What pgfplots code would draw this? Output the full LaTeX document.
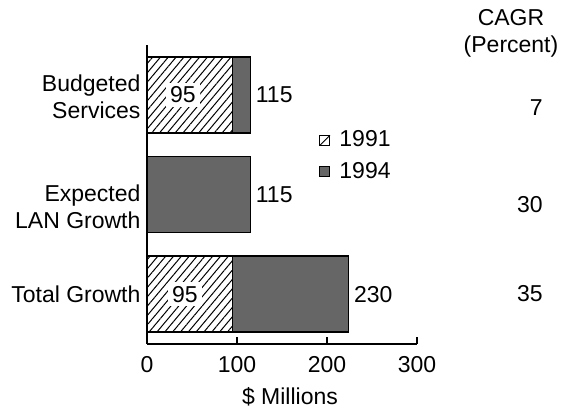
\documentclass[border=0pt]{standalone}
\usepackage{fontspec}
\setmainfont{Liberation Sans}
\usepackage{pgfplots}
\pgfplotsset{compat=1.18}
\usetikzlibrary{patterns.meta}
\definecolor{darkbar}{gray}{0.40}
\begin{document}
\fontsize{11.5}{13.5}\selectfont
\begin{tikzpicture}
\path[use as bounding box] (0pt,0pt) rectangle (281pt,203.5pt);
\begin{axis}[
  at={(73.5pt,31.5pt)}, anchor=south west,
  scale only axis, width=135pt, height=149.5pt,
  xmin=0, xmax=300, ymin=-0.5, ymax=2.5,
  axis x line=bottom, axis y line=left,
  axis line style={-, line width=0.75pt},
  xbar stacked, bar width=38pt,
  xtick={0,100,200,300}, xtick align=inside,
  major tick length=3.5pt,
  x tick style={line width=0.75pt, black},
  xticklabel style={yshift=-2pt},
  ytick={0,0.875,1.98},
  yticklabels={{Total Growth},{Expected\\LAN Growth},{Budgeted\\Services}},
  yticklabel style={align=right, xshift=2.5pt},
  y tick style={draw=none},
  /pgf/number format/assume math mode=true,
  clip=false,
  legend style={at={(axis description cs:0.615,0.742)}, anchor=north west,
    draw=none, fill=none, row sep=2pt, column sep=2.5pt, legend cell align=left},
]
\addplot[draw=black, line width=0.75pt,
  pattern={Lines[angle=50,distance=3pt,line width=0.5pt]},
  legend image code/.code={\draw[line width=0.5pt, fill=white] (0pt,-2.5pt) rectangle (5pt,2.5pt); \draw[line width=0.5pt] (0pt,-2.5pt) -- (5pt,2.5pt);}]
  coordinates {(95,2) (0,1) (95,0)};
\addlegendentry{1991}
\addplot[draw=black, line width=0.75pt, fill=darkbar,
  legend image code/.code={\draw[line width=0.5pt, fill=darkbar] (0pt,-2.5pt) rectangle (5pt,2.5pt);}]
  coordinates {(20,2) (115,1) (129,0)};
\addlegendentry{1994}
\coordinate (lblA) at (axis cs:40,2);
\coordinate (lblB) at (axis cs:42,0);
\node[anchor=west, inner sep=2.5pt] at (axis cs:115,2) {115};
\node[anchor=west, inner sep=2.5pt] at (axis cs:115,1) {115};
\node[anchor=west, inner sep=2.5pt] at (axis cs:224,0) {230};
\end{axis}
\node[fill=white, inner sep=2pt] at (lblA) {95};
\node[fill=white, inner sep=2pt] at (lblB) {95};
\node[align=center] at (255.5pt,187pt) {CAGR\\(Percent)};
\node[anchor=east, inner sep=0pt] at (271.5pt,149.5pt) {7};
\node[anchor=east, inner sep=0pt] at (271.5pt,101pt) {30};
\node[anchor=east, inner sep=0pt] at (271.5pt,56.5pt) {35};
\node at (145pt,5pt) {\$ Millions};
\end{tikzpicture}
\end{document}
